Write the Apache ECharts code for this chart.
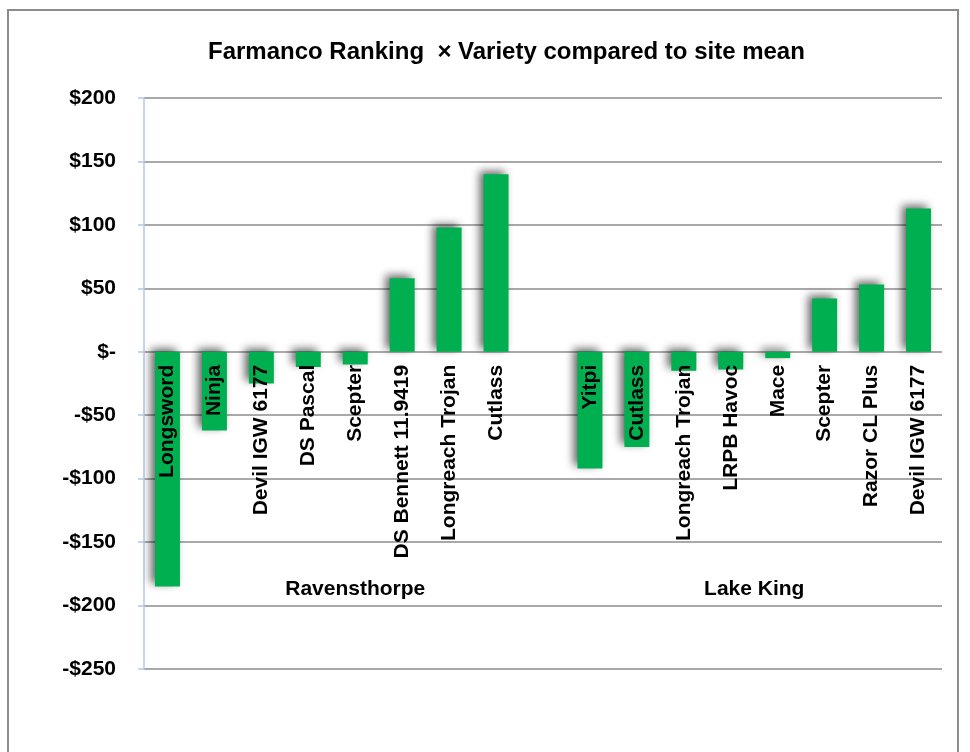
<!DOCTYPE html>
<html>
<head>
<meta charset="utf-8">
<script src="https://cdn.jsdelivr.net/npm/echarts@6/dist/echarts.min.js"></script>
<style>
  html, body { margin: 0; padding: 0; background: #fff; }
  #main { width: 970px; height: 752px; }
</style>
</head>
<body>
<div id="main"></div>
<script>
// categories (blank entry = gap between the two sites)
const categories = [
  'Longsword', 'Ninja', 'Devil IGW 6177', 'DS Pascal', 'Scepter',
  'DS Bennett 11.9419', 'Longreach Trojan', 'Cutlass', '',
  'Yitpi', 'Cutlass', 'Longreach Trojan', 'LRPB Havoc', 'Mace',
  'Scepter', 'Razor CL Plus', 'Devil IGW 6177'
];
// $ compared to site mean
const values = [-185, -62, -25, -12, -10, 58, 98, 140, null, -92, -75, -15, -14, -5, 42, 53, 113];

// site groups: name, first and last category index
const groupNames = ['Ravensthorpe', 'Lake King'];
const groupFirst = [0, 9];
const groupLast = [8, 16];

const FONT = '"Liberation Sans", Arial, sans-serif';

const myChart = echarts.init(document.getElementById('main'));

myChart.setOption({
  animation: false,
  title: {
    text: 'Farmanco Ranking  \u00d7 Variety compared to site mean',
    left: 203,
    top: 35,
    textStyle: { fontFamily: FONT, fontWeight: 'bold', fontSize: 24, color: '#000' }
  },
  grid: { left: 144, right: 28, top: 98, bottom: 83, containLabel: false, outerBoundsMode: 'none' },
  xAxis: {
    type: 'category',
    data: categories,
    z: 10,
    axisLine: { show: false },
    axisTick: { show: false },
    axisLabel: {
      interval: 0,
      rotate: 90,
      margin: 13,
      fontFamily: FONT,
      fontWeight: 'bold',
      fontSize: 21,
      color: '#000'
    }
  },
  yAxis: {
    type: 'value',
    min: -250,
    max: 200,
    interval: 50,
    axisLine: { show: true, lineStyle: { color: '#b4c7e7', width: 1.5 } },
    axisTick: { show: true, length: 6, lineStyle: { color: '#b4c7e7', width: 1.5 } },
    splitLine: { lineStyle: { color: '#8c8c8c', width: 1.5 } },
    axisLabel: {
      margin: 28,
      fontFamily: FONT,
      fontWeight: 'bold',
      fontSize: 21,
      color: '#000',
      formatter: function (v) {
        if (v === 0) return '$-';
        return v < 0 ? '-$' + (-v) : '$' + v;
      }
    }
  },
  series: [
    {
      type: 'bar',
      data: values,
      barWidth: 25,
      itemStyle: {
        color: '#00b050',
        shadowColor: 'rgba(0,0,0,0.6)',
        shadowBlur: 9,
        shadowOffsetX: -4,
        shadowOffsetY: -3
      }
    }
  ]
});

// move the category labels up to the $0 line
const yZero = myChart.convertToPixel({ yAxisIndex: 0 }, 0);
const yBottom = myChart.convertToPixel({ yAxisIndex: 0 }, -250);

// site names under each group + outer frame
const groupTexts = groupNames.map(function (name, i) {
  const x = (myChart.convertToPixel({ xAxisIndex: 0 }, groupFirst[i]) +
             myChart.convertToPixel({ xAxisIndex: 0 }, groupLast[i])) / 2;
  const y = myChart.convertToPixel({ yAxisIndex: 0 }, -187);
  return {
    type: 'text',
    x: x,
    y: y,
    style: {
      text: name,
      align: 'center',
      verticalAlign: 'middle',
      font: 'bold 21px ' + FONT,
      fill: '#000'
    },
    z: 20
  };
});

myChart.setOption({
  xAxis: { offset: -(yBottom - yZero) },
  graphic: [
    {
      type: 'rect',
      shape: { x: 8, y: 10, width: 950, height: 800 },
      style: { fill: 'none', stroke: '#8c8c8c', lineWidth: 2 },
      silent: true
    }
  ].concat(groupTexts)
});
</script>
</body>
</html>
